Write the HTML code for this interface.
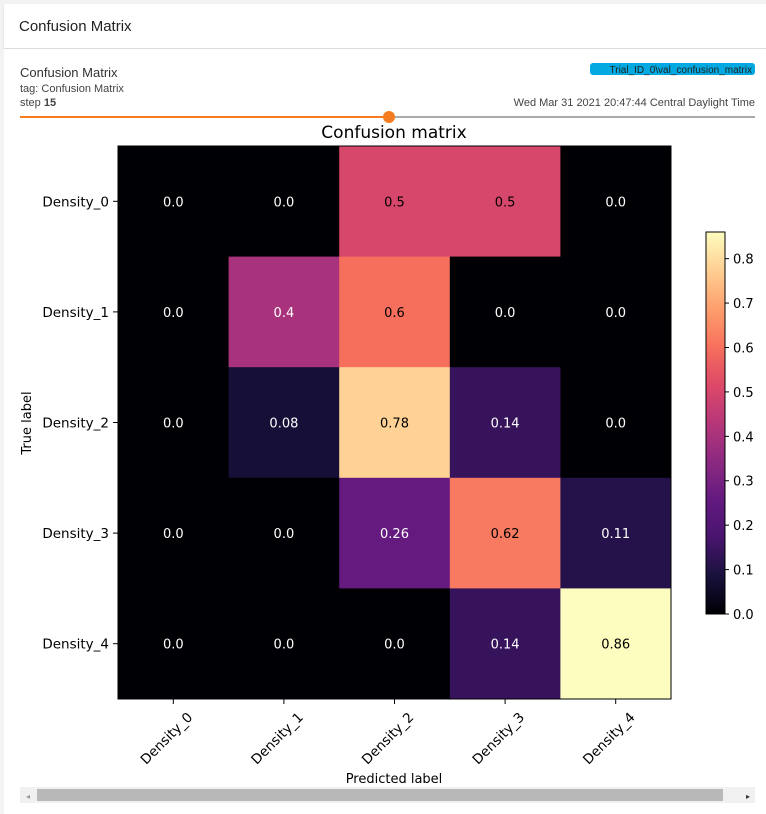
<!DOCTYPE html>
<html><head><meta charset="utf-8">
<style>
body{margin:0;width:766px;height:814px;background:#f3f3f3;font-family:"Liberation Sans",sans-serif;overflow:hidden;position:relative}
.hdr{position:absolute;left:4px;top:4px;width:762px;height:44px;background:#fff;border-bottom:1px solid #ddd;box-shadow:0 1px 2px rgba(0,0,0,.1)}
.hdr span{position:absolute;left:15px;top:14px;font-size:15px;color:#222}
.card{position:absolute;left:4px;top:49px;width:762px;height:765px;background:#fff}
</style></head><body>
<div class="hdr"><span>Confusion Matrix</span></div>
<div class="card"></div>
<svg width="766" height="814" style="position:absolute;left:0;top:0" font-family="DejaVu Sans, sans-serif">
<g font-family="Liberation Sans, sans-serif">
<text x="20" y="77" font-size="13" fill="#333">Confusion Matrix</text>
<text x="20" y="92" font-size="11" fill="#444">tag: Confusion Matrix</text>
<text x="20" y="106" font-size="11" fill="#444">step <tspan font-weight="bold">15</tspan></text>
<rect x="590" y="63" width="165" height="12" rx="3" fill="#03a9e0"/>
<text x="752" y="73" font-size="10" fill="#222" text-anchor="end">Trial_ID_0\val_confusion_matrix</text>
<text x="755" y="106" font-size="11" fill="#444" text-anchor="end">Wed Mar 31 2021 20:47:44 Central Daylight Time</text>
</g>
<line x1="20" y1="117" x2="389" y2="117" stroke="#f57c20" stroke-width="2"/>
<line x1="389" y1="117" x2="755" y2="117" stroke="#aaa" stroke-width="2"/>
<circle cx="389" cy="117" r="6" fill="#f57c20"/>
<text x="394" y="138" font-size="17" text-anchor="middle" fill="#000">Confusion matrix</text>
<g id="plot"></g>
<text x="394" y="783" font-size="13" text-anchor="middle" fill="#000">Predicted label</text>
<text transform="translate(31,423) rotate(-90)" font-size="13" text-anchor="middle" fill="#000">True label</text>
<rect x="20" y="787" width="735" height="16" fill="#f0f0f0"/>
<rect x="37" y="789" width="686" height="12" fill="#b8b8b8"/>
<text x="26" y="799" font-size="8" fill="#999">◂</text>
<text x="746" y="799" font-size="8" fill="#333">▸</text>
</svg>
<script>
const labels=["Density_0","Density_1","Density_2","Density_3","Density_4"];
const row0=[0.0,0.0,0.5,0.5,0.0];
const row1=[0.0,0.4,0.6,0.0,0.0];
const row2=[0.0,0.08,0.78,0.14,0.0];
const row3=[0.0,0.0,0.26,0.62,0.11];
const row4=[0.0,0.0,0.0,0.14,0.86];
const rowText0=["0.0","0.0","0.5","0.5","0.0"];
const rowText1=["0.0","0.4","0.6","0.0","0.0"];
const rowText2=["0.0","0.08","0.78","0.14","0.0"];
const rowText3=["0.0","0.0","0.26","0.62","0.11"];
const rowText4=["0.0","0.0","0.0","0.14","0.86"];
const cbTicks=[0,0.1,0.2,0.3,0.4,0.5,0.6,0.7,0.8];
const rows=[row0,row1,row2,row3,row4];
const texts=[rowText0,rowText1,rowText2,rowText3,rowText4];
const NS="http://www.w3.org/2000/svg";
const X0=118,Y0=146,W=553,H=553,n=labels.length,cw=W/n,ch=H/n;
const vmax=Math.max(...rows.flat());
const xs=i=>X0+i*cw, ys=j=>Y0+j*ch;
const mag=[[0,0,4],[24,17,60],[72,20,110],[100,26,128],[140,41,129],[183,55,121],[222,73,104],[247,112,92],[254,159,109],[254,207,146],[252,253,191]];
function cmap(v){let t=Math.max(0,Math.min(1,v/vmax))*10;let i=Math.min(9,Math.floor(t)),f=t-i;const a=mag[i],b=mag[i+1];return `rgb(${a.map((c,k)=>Math.round(c+(b[k]-c)*f)).join(",")})`;}
const g=document.getElementById('plot');
function el(tag,attrs,txt){const e=document.createElementNS(NS,tag);for(const k in attrs)e.setAttribute(k,attrs[k]);if(txt!=null)e.textContent=txt;g.appendChild(e);return e;}
rows.forEach((r,j)=>r.forEach((v,i)=>{
 const c=el('rect',{x:xs(i),y:ys(j),width:cw+0.5,height:ch+0.5,fill:cmap(v)});
 
 
 const t=el('text',{x:xs(i)+cw/2,y:ys(j)+ch/2+5,'font-size':13,'text-anchor':'middle',fill:v>vmax/2?'#000':'#fff'},texts[j][i]);
 
 
}));
const fr=el('rect',{x:X0,y:Y0,width:W,height:H,fill:'none',stroke:'#000','stroke-width':1});


labels.forEach((l,i)=>{
 const cx=xs(i)+cw/2, cy=ys(i)+ch/2;
 el('line',{x1:cx,y1:Y0+H,x2:cx,y2:Y0+H+5,stroke:'#000'});
 const tx=el('text',{transform:`translate(${cx+20},${Y0+H+19}) rotate(-45)`,'font-size':13.5,'text-anchor':'end',fill:'#000'},l);
 
 
 el('line',{x1:X0-5,y1:cy,x2:X0,y2:cy,stroke:'#000'});
 const ty=el('text',{x:X0-9,y:cy+5,'font-size':13.5,'text-anchor':'end',fill:'#000'},l);
 
 
});
const CX=706,CW=19,CB=614,CT=232;
const cy=v=>CB-(v/vmax)*(CB-CT);
const defs=el('defs',{});
const lg=document.createElementNS(NS,'linearGradient');lg.setAttribute('id','cbg');lg.setAttribute('x1','0');lg.setAttribute('y1','1');lg.setAttribute('x2','0');lg.setAttribute('y2','0');defs.appendChild(lg);
for(let k=0;k<=20;k++){const s=document.createElementNS(NS,'stop');s.setAttribute('offset',k/20);s.setAttribute('stop-color',cmap(vmax*k/20));lg.appendChild(s);}
const cb=el('rect',{x:CX,y:CT,width:CW,height:CB-CT,fill:'url(#cbg)',stroke:'#000','stroke-width':1});


cbTicks.forEach(v=>{
 el('line',{x1:CX+CW,y1:cy(v),x2:CX+CW+4,y2:cy(v),stroke:'#000'});
 const t=el('text',{x:CX+CW+8,y:cy(v)+5,'font-size':13,fill:'#000'},v.toFixed(1));
 
 
});
</script>
</body></html>
